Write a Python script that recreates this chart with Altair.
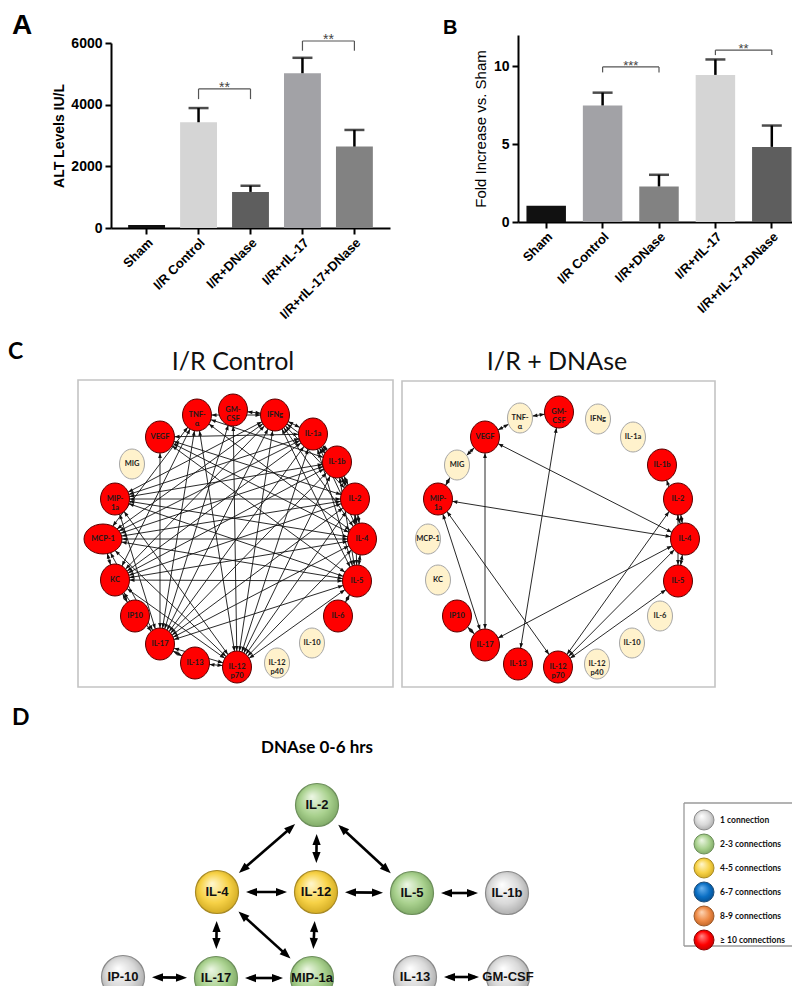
import math
import altair as alt
import pandas as pd

FONT = "Liberation Sans"
CAL = "Lato"

# ---------------- Panels A / B ----------------
groups = ["Sham", "I/R Control", "I/R+DNase", "I/R+rIL-17", "I/R+rIL-17+DNase"]
alt_mean = [100, 3430, 1170, 5020, 2640]
alt_err = [0, 460, 200, 500, 540]
alt_colors = ["#111111", "#d5d5d5", "#5e5e5e", "#a2a2a6", "#828282"]
fold_mean = [1.05, 7.48, 2.28, 9.44, 4.82]
fold_err = [0, 0.82, 0.75, 0.99, 1.37]
fold_colors = ["#111111", "#a2a2a6", "#828282", "#d5d5d5", "#5e5e5e"]

alt_br_from = ["I/R Control", "I/R+rIL-17"]
alt_br_to = ["I/R+DNase", "I/R+rIL-17+DNase"]
alt_br_y = [4510, 6065]
alt_br_leg = [4180, 5750]
alt_br_txt = ["**", "**"]

fold_br_from = ["I/R Control", "I/R+rIL-17"]
fold_br_to = ["I/R+DNase", "I/R+rIL-17+DNase"]
fold_br_y = [9.95, 11.03]
fold_br_leg = [9.6, 10.71]
fold_br_txt = ["***", "**"]

# whole figure is one plot area; page coordinates = svg + 8
W, H = 784, 978
P0 = 8


def bar_panel(means, errs, colors, b_from, b_to, b_y, b_leg, b_txt, ytitle, tweight,
              ymax, yticks, xpix, ypix, p_in, p_out, star_size, tpad, tsize):
    xr = [xpix[0] - P0, xpix[1] - P0]
    yr = [ypix[0] - P0, ypix[1] - P0]
    df = pd.DataFrame({"group": groups, "mean": means,
                       "top": [m + e for m, e in zip(means, errs)],
                       "err": errs, "color": colors})
    xscale = alt.Scale(domain=groups, range=xr, paddingInner=p_in, paddingOuter=p_out)
    xg = alt.X("group:N", scale=xscale,
               axis=alt.Axis(title=None, orient="bottom", offset=yr[0] - H, labelAngle=-45,
                             labelFont=FONT, labelFontSize=13, labelFontWeight="bold",
                             labelColor="black", domainColor="black", domainWidth=2,
                             tickColor="black", tickWidth=2, tickSize=6, labelPadding=2))
    ys = alt.Scale(domain=[0, ymax], range=yr, nice=False, zero=True)
    yq = alt.Y("mean:Q", scale=ys,
               axis=alt.Axis(values=yticks, format="d", title=ytitle, orient="left",
                             offset=-xr[0], titleFont=FONT, titleFontSize=tsize,
                             titleFontWeight=tweight, titleColor="black", titlePadding=tpad,
                             labelFont=FONT, labelFontSize=14, labelFontWeight="bold",
                             labelColor="black", domainColor="black", domainWidth=2,
                             tickColor="black", tickWidth=2, tickSize=6, labelPadding=3))
    bars = alt.Chart(df).mark_bar().encode(x=xg, y=yq, color=alt.Color("color:N", scale=None))
    edf = df[df.err > 0]
    xs = alt.X("group:N", scale=xscale)
    err_rule = alt.Chart(edf).mark_rule(color="black", strokeWidth=2.5).encode(
        x=xs, y="mean:Q", y2="top:Q")
    err_cap = alt.Chart(edf).mark_tick(color="black", thickness=2.5, size=20).encode(
        x=xs, y="top:Q")
    bdf = pd.DataFrame({"g1": b_from, "g2": b_to, "y": b_y, "leg": b_leg, "txt": b_txt})
    hline = alt.Chart(bdf).mark_rule(color="#555555", strokeWidth=1.2).encode(
        x=alt.X("g1:N", scale=xscale), x2="g2:N", y="y:Q")
    ldf = pd.DataFrame({"g": b_from + b_to, "y": b_y + b_y, "leg": b_leg + b_leg})
    legs = alt.Chart(ldf).mark_rule(color="#555555", strokeWidth=1.2).encode(
        x=alt.X("g:N", scale=xscale), y="leg:Q", y2="y:Q")
    step = (xr[1] - xr[0]) / (5 - p_in + 2 * p_out)
    stars = alt.Chart(bdf).mark_text(dx=step / 2, dy=3, baseline="alphabetic", font=FONT,
                                     fontSize=star_size, color="#444444").encode(
        x=alt.X("g1:N", scale=xscale), y="y:Q", text="txt:N")
    return alt.layer(bars, err_rule, err_cap, hline, legs, stars)


panel_a = bar_panel(alt_mean, alt_err, alt_colors, alt_br_from, alt_br_to, alt_br_y,
                    alt_br_leg, alt_br_txt, "ALT Levels IU/L", "bold", 6000,
                    [0, 2000, 4000, 6000], (111, 390), (228, 43), 0.29, 0.33, 14, 4, 14)
panel_b = bar_panel(fold_mean, fold_err, fold_colors, fold_br_from, fold_br_to, fold_br_y,
                    fold_br_leg, fold_br_txt, "Fold Increase vs. Sham", "normal", 12,
                    [0, 5, 10], (518, 800), (222, 35), 0.3, 0.15, 13, 5, 15)

# ---------------- Panel C (networks) ----------------
c_names = ["TNF-α", "GM-CSF", "IFNg", "IL-1a", "IL-1b", "IL-2", "IL-4", "IL-5", "IL-6",
           "IL-10", "IL-12 p40", "IL-12 p70", "IL-13", "IL-17", "IP10", "KC", "MCP-1",
           "MIP-1a", "MIG", "VEGF"]
c_labels = ["TNF-\nα", "GM-\nCSF", "IFNg", "IL-1a", "IL-1b", "IL-2", "IL-4", "IL-5", "IL-6",
            "IL-10", "IL-12\np40", "IL-12\np70", "IL-13", "IL-17", "IP10", "KC", "MCP-1",
            "MIP-\n1a", "MIG", "VEGF"]
ctrl_x = [197, 233, 275, 313, 337, 355, 362, 357, 338, 312, 277, 237, 195, 160, 135, 115,
          103, 115, 132, 160]
ctrl_y = [415, 410, 415, 434, 462, 499, 539, 581, 616, 643, 663, 667, 663, 644, 616, 580,
          539, 499, 464, 437]
ctrl_red = [1, 1, 1, 1, 1, 1, 1, 1, 1, 0, 0, 1, 1, 1, 1, 1, 1, 1, 0, 1]
ctrl_links = {
    "IL-4": ["VEGF", "MIP-1a", "MCP-1", "KC", "IL-17", "IL-12 p70", "IFNg", "IL-1a", "IL-1b",
             "IL-2", "IL-5", "TNF-α"],
    "IL-5": ["MIP-1a", "MCP-1", "KC", "IL-17", "IL-12 p70", "IFNg", "IL-1a", "IL-1b", "IL-2",
             "IL-6", "VEGF"],
    "IL-2": ["MIP-1a", "MCP-1", "KC", "IL-17", "IL-12 p70", "IFNg", "IL-1a", "IL-1b", "VEGF"],
    "IL-1b": ["MIP-1a", "MCP-1", "KC", "IL-17", "IL-12 p70", "IFNg", "IL-1a", "TNF-α"],
    "IL-1a": ["MIP-1a", "MCP-1", "KC", "IL-17", "IL-12 p70", "IFNg", "VEGF"],
    "IFNg": ["MIP-1a", "MCP-1", "KC", "IL-17", "IL-12 p70", "GM-CSF", "TNF-α"],
    "TNF-α": ["IL-17", "IL-12 p70", "KC", "MCP-1"],
    "GM-CSF": ["IL-17", "IL-12 p70"],
    "MIP-1a": ["IL-17", "IL-12 p70"],
    "MCP-1": ["KC", "IL-17", "IL-12 p70"],
    "KC": ["IP10", "IL-17", "IL-12 p70"],
    "IL-17": ["IL-13", "IL-12 p70"],
    "IL-13": ["IL-12 p70"],
    "VEGF": ["IL-17"],
}
dnase_x = [520, 559, 598, 633, 662, 678, 685, 678, 660, 632, 597, 558, 518, 485, 457, 438,
           428, 438, 457, 485]
dnase_y = [418, 412, 419, 437, 465, 499, 539, 581, 616, 643, 664, 667, 664, 645, 616, 580,
           539, 499, 465, 437]
dnase_red = [0, 1, 0, 0, 1, 1, 1, 1, 0, 0, 0, 1, 1, 1, 1, 0, 0, 1, 0, 1]
dnase_links = {
    "TNF-α": ["GM-CSF", "VEGF"],
    "MIG": ["VEGF", "MIP-1a"],
    "VEGF": ["IL-17", "IL-4"],
    "GM-CSF": ["IL-13"],
    "MIP-1a": ["IL-4", "IL-17", "IL-12 p70"],
    "IP10": ["IL-17"],
    "IL-17": ["IL-4"],
    "IL-12 p70": ["IL-2", "IL-4", "IL-5"],
    "IL-4": ["IL-1b", "IL-2", "IL-5"],
    "IL-2": ["IL-5"],
}

# ---------------- Panel D ----------------
d_names = ["IL-2", "IL-4", "IL-12", "IL-5", "IL-1b", "IP-10", "IL-17", "MIP-1a", "IL-13",
           "GM-CSF"]
d_x = [317, 217, 316, 412, 507, 123, 216, 312, 415, 508]
d_y = [805, 892, 892, 893, 893, 977, 978, 978, 977, 977]
d_links = [("IL-2", "IL-4"), ("IL-2", "IL-12"), ("IL-2", "IL-5"), ("IL-4", "IL-12"),
           ("IL-12", "IL-5"), ("IL-5", "IL-1b"), ("IL-4", "IL-17"), ("IL-4", "MIP-1a"),
           ("IL-12", "MIP-1a"), ("IP-10", "IL-17"), ("IL-17", "MIP-1a"), ("IL-13", "GM-CSF")]
legend_labels = ["1 connection", "2-3 connections", "4-5 connections", "6-7 connections",
                 "8-9 connections", "≥ 10 connections"]
legend_colors = [["#ffffff", "#d9d9d9", "#9c9c9c"], ["#eef7e6", "#a9d18e", "#6f9a57"],
                 ["#fff7cf", "#f7d247", "#c49c15"], ["#6cb4f0", "#0a6fc4", "#05457f"],
                 ["#fdd6b6", "#ee8a46", "#b2581c"], ["#ff8a8a", "#ff0000", "#b00000"]]
legend_strokes = ["#8a8a8a", "#6d8f5b", "#a88a24", "#1f4e79", "#9c5a2a", "#8c0000"]

# ---------------- page-coordinate scales ----------------
xsc = alt.Scale(domain=[P0, P0 + W], nice=False, zero=False)
ysc = alt.Scale(domain=[P0, P0 + H], nice=False, zero=False, reverse=True)
AR = "M0,-1L0.75,1L-0.75,1Z"


def XQ(f="x"):
    return alt.X(f"{f}:Q", scale=xsc, axis=None)


def YQ(f="y"):
    return alt.Y(f"{f}:Q", scale=ysc, axis=None)


def ell_path(a, b):
    m = max(a, b)
    ax, by = a / m, b / m
    k = 0.5523
    p = (f"M0,{-by:.3f}C{k*ax:.3f},{-by:.3f} {ax:.3f},{-k*by:.3f} {ax:.3f},0"
         f"C{ax:.3f},{k*by:.3f} {k*ax:.3f},{by:.3f} 0,{by:.3f}"
         f"C{-k*ax:.3f},{by:.3f} {-ax:.3f},{k*by:.3f} {-ax:.3f},0"
         f"C{-ax:.3f},{-k*by:.3f} {-k*ax:.3f},{-by:.3f} 0,{-by:.3f}Z")
    return p, (2 * m) ** 2


def angle_of(ux, uy):
    return math.degrees(math.atan2(ux, -uy)) % 360


def network(xs, ys, red, links, wide):
    pos = {n: (x, y) for n, x, y in zip(c_names, xs, ys)}
    dims = {}
    for n, r in zip(c_names, red):
        dims[n] = (14.5, 16) if r else (12.5, 15)
    for n in wide:
        dims[n] = (19, 15)
    erows, arows = [], []
    for a, targets in links.items():
        for b in targets:
            (xa, ya), (xb, yb) = pos[a], pos[b]
            d = math.hypot(xb - xa, yb - ya)
            ux, uy = (xb - xa) / d, (yb - ya) / d
            erows.append({"x": xa, "y": ya, "x2": xb, "y2": yb})
            for (cx, cy, vx, vy, node) in [(xb, yb, ux, uy, b), (xa, ya, -ux, -uy, a)]:
                ea, eb = dims[node]
                r = 1 / math.sqrt((vx / ea) ** 2 + (vy / eb) ** 2)
                tipx, tipy = cx - vx * r, cy - vy * r
                arows.append({"x": tipx - vx * 2.5, "y": tipy - vy * 2.5,
                              "ang": angle_of(vx, vy)})
    nrows = []
    for n, lab, r in zip(c_names, c_labels, red):
        p, s = ell_path(*dims[n])
        nrows.append({"x": pos[n][0], "y": pos[n][1], "lab": lab, "shp": p, "sz": s,
                      "fill": "#ff0000" if r else "#fff2cc",
                      "stroke": "#5a0000" if r else "#a6a6a6"})
    edges = alt.Chart(pd.DataFrame(erows)).mark_rule(color="#111111", strokeWidth=0.9).encode(
        x=XQ(), y=YQ(), x2="x2:Q", y2="y2:Q")
    heads = alt.Chart(pd.DataFrame(arows)).mark_point(
        shape=AR, size=25, filled=True, color="#111111", opacity=1).encode(
        x=XQ(), y=YQ(), angle=alt.Angle("ang:Q", scale=None))
    ndf = pd.DataFrame(nrows)
    nodes = alt.Chart(ndf).mark_point(filled=True, opacity=1, strokeWidth=1).encode(
        x=XQ(), y=YQ(), shape=alt.Shape("shp:N", scale=None),
        size=alt.Size("sz:Q", scale=None), fill=alt.Fill("fill:N", scale=None),
        stroke=alt.Stroke("stroke:N", scale=None))
    labels = alt.Chart(ndf).mark_text(font=CAL, fontSize=7.5, fontWeight="bold",
                                      color="#1b1b1b", lineBreak="\n", lineHeight=8.5,
                                      baseline="middle", align="center").encode(
        x=XQ(), y=YQ(), text="lab:N")
    return [edges, heads, nodes, labels]


layers = []
letters = pd.DataFrame({"x": [12, 443], "y": [12, 18], "t": ["A", "B"], "fs": [28, 20]})
for _, row in letters.iterrows():
    layers.append(alt.Chart(letters[letters.t == row.t]).mark_text(
        font=FONT, fontSize=row.fs, fontWeight="bold", color="black", baseline="top",
        align="left").encode(x=XQ(), y=YQ(), text="t:N"))
letters2 = pd.DataFrame({"x": [8, 12], "y": [341, 707], "t": ["C", "D"]})
layers.append(alt.Chart(letters2).mark_text(font=CAL, fontSize=23, fontWeight="bold",
                                            color="black", baseline="top", align="left").encode(
    x=XQ(), y=YQ(), text="t:N"))

boxes = pd.DataFrame({"x": [78, 402], "x2": [393, 715], "y": [380, 381], "y2": [687, 687]})
layers.append(alt.Chart(boxes).mark_rect(fill="white", stroke="#c4c4c4", strokeWidth=1.6).encode(
    x=XQ(), y=YQ(), x2="x2:Q", y2="y2:Q"))
titles = pd.DataFrame({"x": [233, 557], "y": [370, 370], "t": ["I/R Control", "I/R + DNAse"]})
layers.append(alt.Chart(titles).mark_text(font=CAL, fontSize=25, color="#111111",
                                          baseline="alphabetic", align="center").encode(
    x=XQ(), y=YQ(), text="t:N"))
layers += network(ctrl_x, ctrl_y, ctrl_red, ctrl_links, ["MCP-1"])
layers += network(dnase_x, dnase_y, dnase_red, dnase_links, [])

layers.append(alt.Chart(pd.DataFrame({"x": [317], "y": [753], "t": ["DNAse 0-6 hrs"]})).mark_text(
    font=CAL, fontSize=17, fontWeight="bold", color="black", align="center",
    baseline="alphabetic").encode(x=XQ(), y=YQ(), text="t:N"))
dpos = {n: (x, y) for n, x, y in zip(d_names, d_x, d_y)}
R_D = 21.5
GAP = 7.5
drows, darows = [], []
conn = {n: 0 for n in d_names}
for a, b in d_links:
    conn[a] += 1
    conn[b] += 1
    (xa, ya), (xb, yb) = dpos[a], dpos[b]
    d = math.hypot(xb - xa, yb - ya)
    ux, uy = (xb - xa) / d, (yb - ya) / d
    ta = (xa + ux * (R_D + GAP), ya + uy * (R_D + GAP))
    tb = (xb - ux * (R_D + GAP), yb - uy * (R_D + GAP))
    drows.append({"x": ta[0] + ux * 4, "y": ta[1] + uy * 4, "x2": tb[0] - ux * 4,
                  "y2": tb[1] - uy * 4})
    darows.append({"x": tb[0] - ux * 5.5, "y": tb[1] - uy * 5.5, "ang": angle_of(ux, uy)})
    darows.append({"x": ta[0] + ux * 5.5, "y": ta[1] + uy * 5.5, "ang": angle_of(-ux, -uy)})
layers.append(alt.Chart(pd.DataFrame(drows)).mark_rule(color="black", strokeWidth=2.6).encode(
    x=XQ(), y=YQ(), x2="x2:Q", y2="y2:Q"))
layers.append(alt.Chart(pd.DataFrame(darows)).mark_point(
    shape=AR, size=121, filled=True, color="black", opacity=1).encode(
    x=XQ(), y=YQ(), angle=alt.Angle("ang:Q", scale=None)))


def conn_class(c):
    return 0 if c <= 1 else (1 if c <= 3 else (2 if c <= 5 else (3 if c <= 7 else (4 if c <= 9 else 5))))


def grad(stops):
    return {"gradient": "radial", "x1": 0.38, "y1": 0.3, "r1": 0, "x2": 0.5, "y2": 0.5,
            "r2": 0.62, "stops": [{"offset": 0, "color": stops[0]},
                                  {"offset": 0.55, "color": stops[1]},
                                  {"offset": 1, "color": stops[2]}]}


dnode = pd.DataFrame({"x": d_x, "y": d_y, "lab": d_names,
                      "cls": [conn_class(conn[n]) for n in d_names]})
for k in range(6):
    sub = dnode[dnode.cls == k]
    if len(sub):
        layers.append(alt.Chart(sub).mark_point(
            shape="circle", size=(2 * R_D) ** 2, filled=True, opacity=1,
            fill=grad(legend_colors[k]), stroke=legend_strokes[k], strokeWidth=1.2).encode(
            x=XQ(), y=YQ()))
layers.append(alt.Chart(dnode).mark_text(font=FONT, fontSize=13, fontWeight="bold",
                                         color="#111111").encode(
    x=XQ(), y=YQ(), text="lab:N"))

LX, LT, LB, LR = 684, 803, 946, 800
lg_lines = pd.DataFrame({"x": [LX, LX, LX], "x2": [LR, LR, LX], "y": [LT, LB, LT],
                         "y2": [LT, LB, LB]})
layers.append(alt.Chart(lg_lines).mark_rule(color="#9a9a9a", strokeWidth=1.3).encode(
    x=XQ(), y=YQ(), x2="x2:Q", y2="y2:Q"))
lg = pd.DataFrame({"x": [LX + 20] * 6, "y": [LT + 17 + 24 * i for i in range(6)],
                   "lab": legend_labels, "cls": list(range(6))})
for k in range(6):
    layers.append(alt.Chart(lg[lg.cls == k]).mark_point(
        shape="circle", size=400, filled=True, opacity=1, fill=grad(legend_colors[k]),
        stroke=legend_strokes[k], strokeWidth=1).encode(x=XQ(), y=YQ()))
layers.append(alt.Chart(lg).mark_text(font=CAL, fontSize=8.5, fontWeight="bold", color="#111111",
                                      align="left", dx=16).encode(x=XQ(), y=YQ(), text="lab:N"))

lower = alt.layer(*layers)

chart = alt.layer(panel_a, panel_b, lower).resolve_scale(
    x="independent", y="independent"
).properties(
    width=W, height=H, padding=0, autosize=alt.AutoSizeParams(type="none")
).configure_view(stroke=None).configure_axis(grid=False)

chart.save("out.html", embed_options={"renderer": "svg", "actions": False})
